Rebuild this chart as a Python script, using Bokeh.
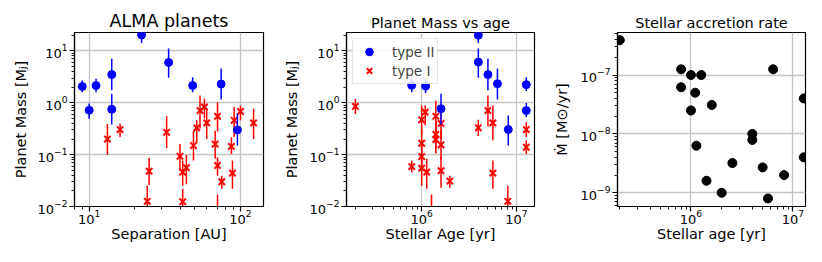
import numpy as np
from bokeh.plotting import figure
from bokeh.layouts import row
from bokeh.models import ColumnDataSource, Legend, LegendItem, FixedTicker, LogTickFormatter
from bokeh.embed import file_html
from bokeh.resources import INLINE

# ---------------- data ----------------
# Panel 1: planet mass vs separation
sep_t2 = [9.0, 10.0, 11.1, 14.1, 14.1, 22.2, 33.5, 48.3, 74.5, 95.4]
mass_t2_sep = [2.07, 0.72, 2.15, 3.5, 0.75, 20.4, 6.0, 2.15, 2.3, 0.30]
hi_t2_sep = [2.7, 0.97, 2.9, 7.1, 1.5, 30.0, 11.1, 3.1, 4.6, 0.62]
lo_t2_sep = [1.6, 0.49, 1.6, 1.74, 0.38, 14.3, 3.05, 1.6, 1.16, 0.15]

sep_t1 = [13.2, 16.0, 24.2, 24.9, 32.5, 39.8, 41.5, 41.5, 43.9, 48.9, 51.4, 54.0,
          57.8, 59.8, 68.0, 70.5, 70.5, 70.5, 75.2, 87.1, 88.5, 90.8, 100.0, 122.0]
mass_t1_sep = [0.20, 0.305, 0.0126, 0.048, 0.27, 0.093, 0.046, 0.0124, 0.056, 0.15, 0.33, 0.71,
               0.83, 0.41, 0.16, 0.55, 0.062, 0.005, 0.030, 0.144, 0.044, 0.46, 0.68, 0.41]
hi_t1_sep = [0.39, 0.40, 0.025, 0.087, 0.55, 0.16, 0.077, 0.022, 0.099, 0.29, 0.46, 1.39,
             1.2, 0.71, 0.29, 1.03, 0.089, 0.017, 0.039, 0.217, 0.077, 0.83, 0.89, 0.77]
lo_t1_sep = [0.10, 0.22, 0.006, 0.026, 0.133, 0.049, 0.025, 0.006, 0.027, 0.077, 0.17, 0.32,
             0.5, 0.20, 0.083, 0.28, 0.039, 0.002, 0.022, 0.103, 0.022, 0.22, 0.46, 0.20]

# Panel 2: planet mass vs stellar age
age_t2 = [7.85e5, 1.1e6, 1.6e6, 3.96e6, 3.96e6, 5.0e6, 6.3e6, 8.2e6, 1.27e7, 1.27e7]
mass_t2_age = [2.17, 2.1, 0.77, 20.1, 6.1, 3.5, 2.34, 0.305, 2.24, 0.71]
hi_t2_age = [2.9, 2.9, 1.5, 30.0, 11.1, 7.1, 4.6, 0.57, 3.1, 0.99]
lo_t2_age = [1.6, 1.55, 0.38, 14.3, 3.05, 1.74, 1.16, 0.15, 1.68, 0.53]

age_t1 = [2.0e5, 7.85e5, 1.0e6, 1.0e6, 1.0e6, 1.0e6, 1.09e6, 1.13e6, 1.27e6, 1.41e6, 1.41e6,
          1.41e6, 1.6e6, 1.6e6, 1.6e6, 1.98e6, 3.96e6, 5.0e6, 5.64e6, 5.64e6, 8.1e6, 1.27e7, 1.27e7]
mass_t1_age = [0.85, 0.059, 0.47, 0.166, 0.092, 0.055, 0.66, 0.046, 0.006, 0.55, 0.245,
               0.196, 0.40, 0.155, 0.049, 0.031, 0.33, 0.71, 0.41, 0.044, 0.0126, 0.305, 0.139]
hi_t1_age = [1.2, 0.077, 0.89, 0.30, 0.17, 0.10, 0.89, 0.083, 0.017, 1.1, 0.45,
             0.35, 0.96, 0.30, 0.09, 0.039, 0.47, 1.39, 0.89, 0.077, 0.025, 0.42, 0.19]
lo_t1_age = [0.61, 0.046, 0.25, 0.09, 0.05, 0.025, 0.37, 0.022, 0.002, 0.30, 0.13,
             0.105, 0.20, 0.08, 0.023, 0.023, 0.23, 0.35, 0.19, 0.022, 0.006, 0.22, 0.103]

# Panel 3: stellar accretion rate vs stellar age
acc_age = [2.0e5, 8.0e5, 8.0e5, 1.0e6, 1.26e6, 1.1e6, 1.0e6, 1.6e6, 1.13e6, 1.42e6,
           2.0e6, 2.55e6, 4.0e6, 4.0e6, 5.05e6, 5.7e6, 6.4e6, 8.2e6, 1.28e7, 1.28e7]
acc_rate = [3.9e-7, 1.25e-7, 6.2e-8, 1.0e-7, 1.0e-7, 5.0e-8, 2.5e-8, 3.1e-8, 6.3e-9, 1.6e-9,
            1.0e-9, 3.2e-9, 1.0e-8, 7.9e-9, 2.7e-9, 8.0e-10, 1.25e-7, 2.0e-9, 4.0e-8, 4.0e-9]

# tick decades per axis
p1_x_decades = [0, 1, 2]
p1_y_decades = [-3, -2, -1, 0, 1]
p2_x_decades = [5, 6, 7]
p3_y_decades = [-10, -9, -8, -7, -6]

FONT = "DejaVu Sans"
GRID = "#c4c4c4"


def log_ticker(decades, lo, hi):
    majors = [10.0 ** e for e in decades if lo * 0.9999 <= 10.0 ** e <= hi * 1.0001]
    minors = [m * 10.0 ** e for e in decades for m in range(2, 10) if lo <= m * 10.0 ** e <= hi]
    return FixedTicker(ticks=majors, minor_ticks=minors)


def make_fig(width, bl, br, title, tsize, xr, yr, xdec, ydec, xlabel, ylabel, ylab_standoff):
    p = figure(width=width, height=256, x_axis_type="log", y_axis_type="log",
               x_range=xr, y_range=yr, output_backend="svg", toolbar_location=None,
               min_border_left=bl, min_border_right=br, min_border_top=32, min_border_bottom=50)
    p.title.text = title
    p.title.text_font = FONT
    p.title.text_font_size = tsize
    p.title.text_font_style = "normal"
    p.title.text_color = "black"
    p.title.align = "center"
    p.title.standoff = 4
    p.outline_line_color = "black"
    p.outline_line_width = 1.2
    p.outline_line_alpha = 1
    p.xaxis.axis_label = xlabel
    p.yaxis.axis_label = ylabel
    xt = log_ticker(xdec, *xr)
    yt = log_ticker(ydec, *yr)
    p.xaxis.ticker = xt
    p.yaxis.ticker = yt
    p.xgrid.ticker = xt
    p.ygrid.ticker = yt
    for ax in (p.xaxis, p.yaxis):
        ax.formatter = LogTickFormatter()
        ax.axis_label_text_font = FONT
        ax.axis_label_text_font_size = "14.5px"
        ax.axis_label_text_font_style = "normal"
        ax.axis_label_text_color = "black"
        ax.major_label_text_font = FONT
        ax.major_label_text_font_size = "13px"
        ax.major_label_text_color = "black"
        ax.axis_line_color = "black"
        ax.axis_line_width = 1.2
        ax.major_tick_line_color = "black"
        ax.minor_tick_line_color = "black"
        ax.major_tick_line_width = 1.2
        ax.minor_tick_line_width = 0.9
        ax.major_tick_in = 0
        ax.major_tick_out = 5
        ax.minor_tick_in = 0
        ax.minor_tick_out = 3
    p.xaxis.major_label_standoff = -2
    p.xaxis.axis_label_standoff = -1
    p.yaxis.major_label_standoff = 2
    p.yaxis.axis_label_standoff = ylab_standoff
    for g in (p.xgrid, p.ygrid):
        g.grid_line_color = GRID
        g.grid_line_width = 1.3
    return p


def errorbars(p, x, y, lo, hi, color, marker, size, lw):
    src = ColumnDataSource(dict(x=x, y=y, lo=lo, hi=hi))
    seg = p.segment(x0="x", y0="lo", x1="x", y1="hi", source=src,
                    line_color=color, line_width=1.5)
    if marker == "x":
        sc = p.scatter(x="x", y="y", source=src, marker="x", size=size,
                       line_color=color, line_width=lw)
    else:
        sc = p.scatter(x="x", y="y", source=src, marker="circle", size=size,
                       fill_color=color, line_color=color)
    return seg, sc


ylab_mass = "Planet Mass [Mⱼ]"

# Panel 1
p1 = make_fig(280, 74, 17, "ALMA planets", "17.5px", (8.0, 141.9), (0.01, 22.7),
              p1_x_decades, p1_y_decades, "Separation [AU]", ylab_mass, 6)
errorbars(p1, sep_t1, mass_t1_sep, lo_t1_sep, hi_t1_sep, "#ff0000", "x", 9, 2)
errorbars(p1, sep_t2, mass_t2_sep, lo_t2_sep, hi_t2_sep, "#0000ff", "o", 8, 1)

# Panel 2
p2 = make_fig(270, 65, 16, "Planet Mass vs age", "14.5px", (1.61e5, 1.55e7), (0.01, 22.7),
              p2_x_decades, p1_y_decades, "Stellar Age [yr]", ylab_mass, 7)
seg_r, sc_r = errorbars(p2, age_t1, mass_t1_age, lo_t1_age, hi_t1_age, "#ff0000", "x", 9, 2)
seg_b, sc_b = errorbars(p2, age_t2, mass_t2_age, lo_t2_age, hi_t2_age, "#0000ff", "o", 8, 1)
leg = Legend(items=[LegendItem(label="type II", renderers=[sc_b]),
                    LegendItem(label="type I", renderers=[sc_r])],
             location="top_left")
leg.margin = 6
leg.padding = 3
leg.spacing = 0
leg.glyph_width = 26
leg.glyph_height = 19
leg.label_standoff = 10
leg.label_text_font = FONT
leg.label_text_font_size = "13.5px"
leg.border_line_color = "#cccccc"
leg.border_line_width = 1
leg.background_fill_alpha = 0.85
p2.add_layout(leg)

# Panel 3
p3 = make_fig(272, 67, 17, "Stellar accretion rate", "14.5px", (1.9e5, 1.33e7), (5.85e-10, 5.27e-7),
              p2_x_decades, p3_y_decades, "Stellar age [yr]", "Ṁ [M⊙/yr]", 8)
p3.scatter(x=acc_age, y=acc_rate, marker="circle", size=9, fill_color="black", line_color="black")

layout = row(p1, p2, p3)
open("out.html", "w").write(file_html(layout, INLINE))
